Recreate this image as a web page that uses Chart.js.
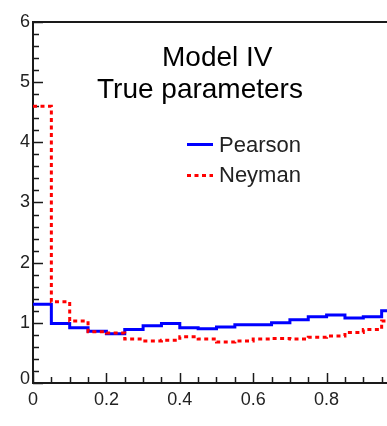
<!DOCTYPE html>
<html>
<head>
<meta charset="utf-8">
<script src="https://cdn.jsdelivr.net/npm/chart.js@4.4.1/dist/chart.umd.min.js"></script>
<style>
    html, body { margin: 0; padding: 0; background: #fff; overflow: hidden; }
    #plot { display: block; }
</style>
</head>
<body>
<canvas id="plot" width="420" height="426"></canvas>
<script>
// histogram bins, lower edges (width 0.05)
const binLow = [0, 0.05, 0.1, 0.15, 0.2, 0.25, 0.3, 0.35, 0.4, 0.45,
                0.5, 0.55, 0.6, 0.65, 0.7, 0.75, 0.8, 0.85, 0.9, 0.95];
const binHigh = 1.0;

const pearson = [1.31, 0.99, 0.92, 0.86, 0.82, 0.89, 0.95, 0.99, 0.92, 0.90,
                 0.93, 0.97, 0.97, 1.00, 1.05, 1.10, 1.13, 1.08, 1.10, 1.20];
const neyman  = [4.60, 1.35, 1.03, 0.85, 0.83, 0.73, 0.70, 0.71, 0.77, 0.73,
                 0.68, 0.70, 0.73, 0.74, 0.73, 0.76, 0.78, 0.84, 0.89, 1.03];

const xTickLabels = [0, 0.2, 0.4, 0.6, 0.8, 1];
const yTickLabels = [0, 1, 2, 3, 4, 5, 6];

const titleLines = ["Model IV", "True parameters"];
const seriesNames = ["Pearson", "Neyman"];

const BLUE = "#0000ff";
const RED = "#ff0000";
const AXIS = "#1a1a1a";
const FONT = "'Liberation Sans', Arial, Helvetica, sans-serif";

// step histogram: one point per lower edge, plus the last upper edge
function histPoints(values) {
    const pts = binLow.map((x, i) => ({ x: x, y: values[i] }));
    pts.push({ x: binHigh, y: values[values.length - 1] });
    return pts;
}

// frame + ticks pointing into the plot, like a ROOT canvas
const frameTicks = {
    id: 'frameTicks',
    beforeDatasetsDraw(chart) {
        const { ctx, chartArea: a, scales: { x, y } } = chart;
        ctx.save();
        ctx.strokeStyle = AXIS;
        ctx.lineCap = 'butt';

        ctx.lineWidth = 1.5;
        for (let v = 0; v <= 6.0001; v += 0.2) {
            const py = Math.round(y.getPixelForValue(v)) + 0.5;
            const major = Math.abs(v - Math.round(v)) < 1e-6;
            ctx.beginPath();
            ctx.moveTo(a.left, py);
            ctx.lineTo(a.left + (major ? 10 : 6), py);
            ctx.stroke();
        }
        for (let v = 0; v <= 1.0001; v += 0.05) {
            const px = Math.round(x.getPixelForValue(v)) + 0.5;
            const major = Math.abs(v * 5 - Math.round(v * 5)) < 1e-6;
            ctx.beginPath();
            ctx.moveTo(px, a.bottom);
            ctx.lineTo(px, a.bottom - (major ? 10 : 6));
            ctx.stroke();
        }

        ctx.lineWidth = 2;
        ctx.beginPath();
        ctx.moveTo(a.left, a.bottom);
        ctx.lineTo(a.left, a.top);
        ctx.lineTo(a.right, a.top);
        ctx.lineTo(a.right, a.bottom);
        ctx.closePath();
        ctx.stroke();

        // tick labels
        ctx.fillStyle = "#222";
        ctx.font = "18px " + FONT;
        ctx.textAlign = 'right';
        ctx.textBaseline = 'middle';
        yTickLabels.forEach(v => {
            const py = y.getPixelForValue(v) - (v === 0 ? 4 : 0);
            ctx.fillText(String(v), a.left - 3, py);
        });
        ctx.textAlign = 'center';
        ctx.textBaseline = 'top';
        xTickLabels.forEach(v => {
            ctx.fillText(String(v), x.getPixelForValue(v), a.bottom + 8);
        });
        ctx.restore();
    },
    afterDraw(chart) {
        const { ctx } = chart;
        ctx.save();
        ctx.fillStyle = "#000";
        ctx.font = "28px " + FONT;
        ctx.textBaseline = 'alphabetic';
        ctx.textAlign = 'left';
        ctx.fillText(titleLines[0], 162, 66);
        ctx.fillText(titleLines[1], 97, 98);

        // legend box
        ctx.lineWidth = 3;
        ctx.strokeStyle = BLUE;
        ctx.beginPath();
        ctx.moveTo(187, 144.5);
        ctx.lineTo(213, 144.5);
        ctx.stroke();
        ctx.strokeStyle = RED;
        ctx.setLineDash([4, 3.5]);
        ctx.beginPath();
        ctx.moveTo(187, 175.5);
        ctx.lineTo(213, 175.5);
        ctx.stroke();
        ctx.setLineDash([]);

        ctx.fillStyle = "#222";
        ctx.font = "22px " + FONT;
        ctx.fillText(seriesNames[0], 219, 152);
        ctx.fillText(seriesNames[1], 219, 182);
        ctx.restore();
    }
};

new Chart(document.getElementById('plot'), {
    type: 'line',
    data: {
        datasets: [
            {
                label: seriesNames[0],
                data: histPoints(pearson),
                borderColor: BLUE,
                borderWidth: 3,
                stepped: 'before',
                pointRadius: 0,
                fill: false,
                order: 1
            },
            {
                label: seriesNames[1],
                data: histPoints(neyman),
                borderColor: RED,
                borderWidth: 3,
                borderDash: [4, 3.5],
                stepped: 'before',
                pointRadius: 0,
                fill: false,
                order: 0
            }
        ]
    },
    options: {
        responsive: false,
        animation: false,
        events: [],
        layout: { padding: { left: 33, top: 22, right: 20, bottom: 43 } },
        scales: {
            x: { type: 'linear', min: 0, max: 1, display: false },
            y: { type: 'linear', min: 0, max: 6, display: false }
        },
        plugins: {
            legend: { display: false },
            tooltip: { enabled: false },
            title: { display: false }
        }
    },
    plugins: [frameTicks]
});
</script>
</body>
</html>
